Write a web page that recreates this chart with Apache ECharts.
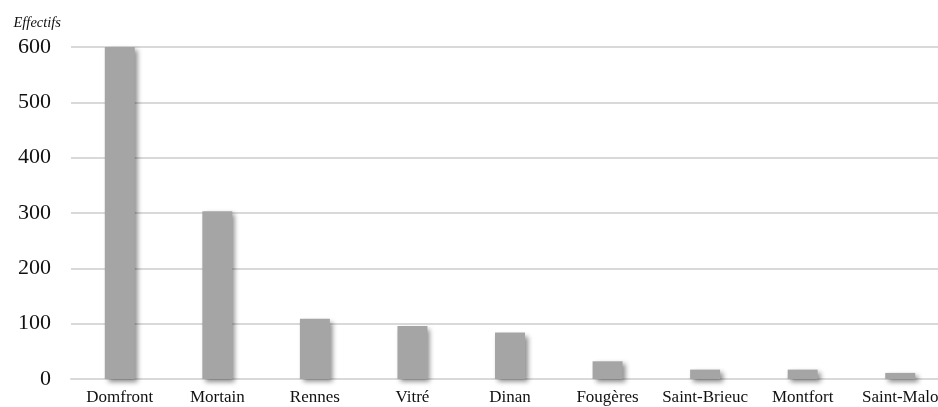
<!DOCTYPE html>
<html><head><meta charset="utf-8">
<script src="https://cdn.jsdelivr.net/npm/echarts@6/dist/echarts.min.js"></script>
<style>html,body{margin:0;padding:0;background:#fff}#c{width:938px;height:407px}</style>
</head><body><div id="c"></div>
<script>
const categories = ["Domfront","Mortain","Rennes","Vitré","Dinan","Fougères","Saint-Brieuc","Montfort","Saint-Malo"];
const values = [600, 303, 109, 96, 84, 32, 17, 17, 11];
const yTicks = [0, 100, 200, 300, 400, 500, 600];
const yAxisName = "Effectifs";

const chart = echarts.init(document.getElementById('c'), null, {renderer:'canvas'});
chart.setOption({
  animation:false,
  grid:{left:71, width:878, top:47, bottom:28, containLabel:false, outerBoundsMode:'none'},
  xAxis:{type:'category', data:categories,
    axisLine:{show:true, lineStyle:{color:'#d9d9d9', width:2}},
    axisTick:{show:false},
    axisLabel:{interval:0, margin:10, color:'#111', fontFamily:'Liberation Serif', fontSize:17}},
  yAxis:{type:'value', min:yTicks[0], max:yTicks[yTicks.length-1], interval:100,
    name:yAxisName, nameLocation:'end', nameGap:16,
    nameTextStyle:{fontFamily:'Liberation Serif', fontStyle:'italic', fontSize:14.5, color:'#111', align:'right', padding:[0,10,0,0]},
    axisLine:{show:false}, axisTick:{show:false},
    axisLabel:{margin:20, color:'#111', fontFamily:'Liberation Serif', fontSize:22},
    splitLine:{lineStyle:{color:'#d9d9d9', width:2}}},
  series:[{type:'bar', data:values, barWidth:30,
    itemStyle:{color:'#a5a5a5', shadowColor:'rgba(0,0,0,0.45)', shadowBlur:5, shadowOffsetX:3, shadowOffsetY:3}}]
});
</script></body></html>
